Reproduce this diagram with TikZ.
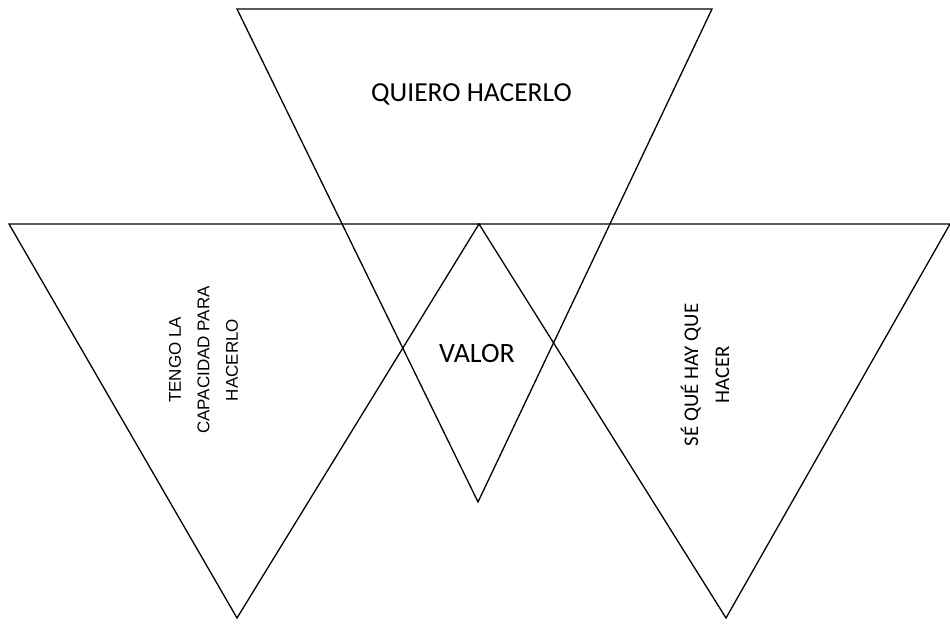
\documentclass[tikz,border=0pt]{standalone}
\usepackage{fontspec}
\newfontfamily\calfont{Carlito}
\newfontfamily\arialfont{Liberation Sans}
\begin{document}
\begin{tikzpicture}[x=1pt,y=1pt,
  tri/.style={draw=black,line width=1.3pt,line join=miter},
  lbl/.style={inner sep=0pt,text=black}]
\useasboundingbox (0,0) rectangle (950,624);
% top triangle
\coordinate (t1) at (237,615);
\coordinate (t2) at (712,615);
\coordinate (t3) at (478,122);
% left triangle
\coordinate (l1) at (9,400);
\coordinate (l2) at (479,400);
\coordinate (l3) at (237,6);
% right triangle
\coordinate (r1) at (479,400);
\coordinate (r2) at (950,400);
\coordinate (r3) at (726,6);
\draw[tri] (t1) -- (t2) -- (t3) -- cycle;
\draw[tri] (l1) -- (l2) -- (l3) -- cycle;
\draw[tri] (r1) -- (r2) -- (r3) -- cycle;
\node[lbl,anchor=base,font=\calfont\fontsize{27.5}{33}\selectfont] (quiero) at (471.5,522) {QUIERO HACERLO};
\node[lbl,anchor=base,font=\calfont\fontsize{28}{33}\selectfont] (valor) at (477,261) {VALOR};
\node[lbl,rotate=90,align=center,font=\arialfont\fontsize{17}{28.5}\selectfont] (tengo) at (203.5,264) {TENGO LA\\CAPACIDAD PARA\\HACERLO};
\node[lbl,rotate=90,align=center,font=\calfont\fontsize{20.8}{31}\selectfont] (se) at (705,249) {SÉ QUÉ HAY QUE\\HACER};
\end{tikzpicture}
\end{document}
